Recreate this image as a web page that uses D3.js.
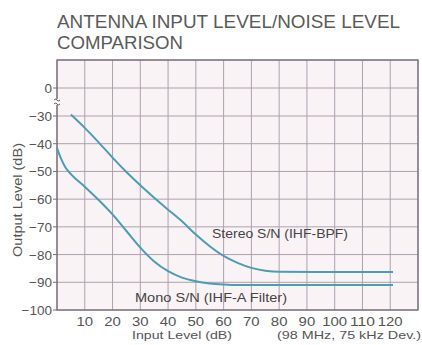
<!DOCTYPE html>
<html><head><meta charset="utf-8">
<script src="https://cdn.jsdelivr.net/npm/d3@7/dist/d3.min.js"></script>
<style>body{margin:0;background:#fff}svg{display:block}text{font-family:"Liberation Sans",Arial,sans-serif}</style>
</head><body><svg id="c" width="422" height="345"></svg>
<script>
const titleLines = ["ANTENNA INPUT LEVEL/NOISE LEVEL", "COMPARISON"];
const xTicks = [10,20,30,40,50,60,70,80,90,100,110,120];
const yTicks = [0,-30,-40,-50,-60,-70,-80,-90,-100];
const yGrid = [10,0,-30,-40,-50,-60,-70,-80,-90,-100];
const stereoX = [5,10,15,20,25,30,35,40,45,50,55,60,65,70,75,80,121];
const stereoY = [-28.5,-34.3,-39.5,-45,-50.2,-55,-59.5,-63.8,-68,-72.8,-77,-80.5,-83,-84.8,-85.8,-86.2,-86.3];
const monoX = [0,1.5,3,5,10,15,20,25,30,35,40,45,50,55,60,65,121];
const monoY = [-41.5,-45.5,-48.5,-51,-55.5,-60.3,-65.5,-71.5,-77.5,-82.5,-86,-88.3,-89.6,-90.4,-90.8,-91,-91];
const seriesLabels = ["Stereo S/N (IHF-BPF)", "Mono S/N (IHF-A Filter)"];

const svg = d3.select("#c");
const L=57, R=418, T=60, B=310;
const x = d3.scaleLinear().domain([0,130]).range([L,R]);
// axis with break between 0 and -30
const y = d3.scaleLinear().domain([-100,-30,0,10]).range([B,116,88,T]);

svg.selectAll(".title").data(titleLines).join("text")
  .attr("x",57).attr("y",(d,i)=>28+i*21).attr("font-size",17.5).attr("fill","#5a5a5a")
  .attr("textLength",(d,i)=>i===0?343:126).attr("lengthAdjust","spacingAndGlyphs")
  .text(d=>d);

svg.append("rect").attr("x",L).attr("y",T).attr("width",R-L).attr("height",B-T).attr("fill","#faf3f6");

const g = svg.append("g");
g.selectAll(".vg").data(d3.range(0,131,10)).join("line")
  .attr("x1",d=>x(d)).attr("x2",d=>x(d)).attr("y1",T).attr("y2",B)
  .attr("stroke","#ada0ad").attr("stroke-width",1);
g.selectAll(".hg").data(yGrid).join("line")
  .attr("x1",L).attr("x2",R).attr("y1",d=>y(d)).attr("y2",d=>y(d))
  .attr("stroke","#ada0ad").attr("stroke-width",1);
svg.append("rect").attr("x",L).attr("y",T).attr("width",R-L).attr("height",B-T)
  .attr("fill","none").attr("stroke","#766c78").attr("stroke-width",1.3);

// y ticks
svg.selectAll(".yt").data(yTicks).join("line")
  .attr("x1",L-4).attr("x2",L).attr("y1",d=>y(d)).attr("y2",d=>y(d)).attr("stroke","#766c78");
svg.selectAll(".yl").data(yTicks).join("text")
  .attr("x",L-5).attr("y",d=>y(d)+5).attr("text-anchor","end").attr("font-size",13.5).attr("fill","#555")
  .text(d=>d===0?"0":"\u2212"+Math.abs(d));
svg.selectAll(".xl").data(xTicks).join("text")
  .attr("x",d=>x(d)).attr("y",326).attr("text-anchor","middle").attr("font-size",12).attr("fill","#555")
  .attr("textLength",d=>String(d).length*8.3).attr("lengthAdjust","spacingAndGlyphs")
  .text(d=>d);

// axis break mark
const by = (y(0)+y(-30))/2;
svg.append("rect").attr("x",L-2).attr("y",by-3).attr("width",4).attr("height",6).attr("fill","#fff");
svg.append("path").attr("d",`M${L-3},${by-2} q2,-2 3,0 t3,0 M${L-3},${by+2} q2,-2 3,0 t3,0`)
  .attr("fill","none").attr("stroke","#555").attr("stroke-width",1);

svg.append("text").attr("transform",`translate(22,200) rotate(-90)`).attr("text-anchor","middle")
  .attr("font-size",13.5).attr("fill","#555").attr("textLength",114).attr("lengthAdjust","spacingAndGlyphs").text("Output Level (dB)");
svg.append("text").attr("x",132).attr("y",339).attr("font-size",11.5).attr("fill","#555")
  .attr("textLength",100).attr("lengthAdjust","spacingAndGlyphs").text("Input Level (dB)");
svg.append("text").attr("x",277).attr("y",339).attr("font-size",11.5).attr("fill","#555")
  .attr("textLength",144).attr("lengthAdjust","spacingAndGlyphs").text("(98 MHz, 75 kHz Dev.)");

const line = d3.line().x(d=>x(d[0])).y(d=>y(d[1])).curve(d3.curveMonotoneX);
svg.append("path").datum(stereoX.map((v,i)=>[v,stereoY[i]])).attr("d",line)
  .attr("fill","none").attr("stroke","#4b9db3").attr("stroke-width",2);
svg.append("path").datum(monoX.map((v,i)=>[v,monoY[i]])).attr("d",line)
  .attr("fill","none").attr("stroke","#4b9db3").attr("stroke-width",2);

svg.append("text").attr("x",212).attr("y",238).attr("font-size",13.5).attr("fill","#444")
  .attr("textLength",136).attr("lengthAdjust","spacingAndGlyphs").text(seriesLabels[0]);
svg.append("text").attr("x",135).attr("y",302).attr("font-size",13.5).attr("fill","#444")
  .attr("textLength",152).attr("lengthAdjust","spacingAndGlyphs").text(seriesLabels[1]);
</script></body></html>
